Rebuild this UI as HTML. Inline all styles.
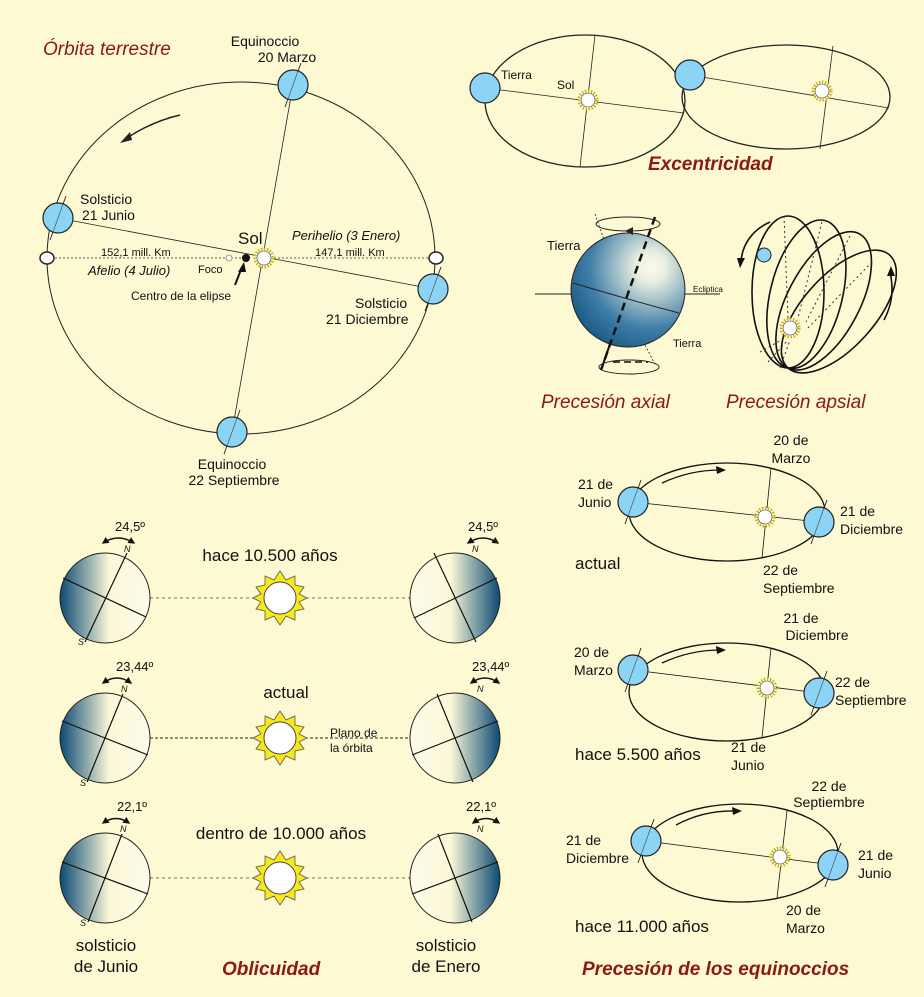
<!DOCTYPE html>
<html><head><meta charset="utf-8"><style>
html,body{margin:0;padding:0;background:#fdf9d2;}
svg{display:block;font-family:"Liberation Sans",sans-serif;}
.t{font-size:14px;fill:#111;}
.tt{font-size:17px;fill:#111;}
.r{font-size:19px;font-weight:bold;font-style:italic;fill:#8c1a10;}
.ri{font-size:19px;font-style:italic;fill:#8c1a10;}
</style></head><body>
<svg width="924" height="997" viewBox="0 0 924 997" xmlns="http://www.w3.org/2000/svg">
<defs>
<linearGradient id="gl" x1="0" x2="1"><stop offset="0" stop-color="#0b4a73"/><stop offset="0.55" stop-color="#fbf8d8"/><stop offset="1" stop-color="#fdfbe8"/></linearGradient>
<linearGradient id="gr" x1="1" x2="0"><stop offset="0" stop-color="#0b4a73"/><stop offset="0.55" stop-color="#fbf8d8"/><stop offset="1" stop-color="#fdfbe8"/></linearGradient>
<radialGradient id="gs" cx="0.7" cy="0.3" r="0.9"><stop offset="0" stop-color="#fdfbe8"/><stop offset="0.15" stop-color="#e8eee0"/><stop offset="0.6" stop-color="#3f7ea8"/><stop offset="1" stop-color="#0b4a73"/></radialGradient>
<marker id="ah" viewBox="0 0 10 10" refX="8" refY="5" markerWidth="5" markerHeight="5" orient="auto-start-reverse"><path d="M0 0 L10 5 L0 10 z" fill="#111"/></marker>
<g id="sun"><circle r="9" fill="#fff" stroke="#c9b400" stroke-width="3" stroke-dasharray="1.5 1.5"/><circle r="7" fill="#fff" stroke="#333" stroke-width="0.6"/></g>
<g id="bigsun"><polygon points="0,-27 6,-18 15,-22 15,-13 24,-11 19,-4 27,0 19,4 24,11 15,13 15,22 6,18 0,27 -6,18 -15,22 -15,13 -24,11 -19,4 -27,0 -19,-4 -24,-11 -15,-13 -15,-22 -6,-18" fill="#f8e81a" stroke="#555" stroke-width="0.8"/><circle r="16" fill="#fff" stroke="#444" stroke-width="1"/></g>
<g id="earth"><circle r="15" fill="#8bd4f6" stroke="#222" stroke-width="1.2"/></g>
<g id="earthA"><line x1="8" y1="-22" x2="-8" y2="22" stroke="#222" stroke-width="0.9"/><circle r="15" fill="#8bd4f6" stroke="#222" stroke-width="1.2"/><line x1="5" y1="-14" x2="-5" y2="14" stroke="#444" stroke-width="0.6"/></g>
</defs>
<rect width="924" height="997" fill="#fdf9d2"/>

<!-- Main orbit -->
<text x="43" y="55" class="ri">Órbita terrestre</text>
<ellipse cx="241" cy="258" rx="194" ry="176" fill="none" stroke="#222" stroke-width="1"/>
<path d="M180 115 Q150 122 124 140" fill="none" stroke="#222" stroke-width="1.5"/>
<polygon points="120,143 130,132 132,140" fill="#222"/>
<line x1="293" y1="85" x2="232" y2="432" stroke="#222" stroke-width="0.8"/>
<line x1="58" y1="218" x2="433" y2="289" stroke="#222" stroke-width="0.8"/>
<line x1="55" y1="258" x2="246" y2="258" stroke="#333" stroke-width="0.8" stroke-dasharray="2 2"/>
<line x1="274" y1="258" x2="428" y2="258" stroke="#333" stroke-width="0.8" stroke-dasharray="2 2"/>
<use href="#earthA" x="293" y="85"/><use href="#earthA" x="58" y="218"/><use href="#earthA" x="433" y="289"/><use href="#earthA" x="232" y="432"/>
<ellipse cx="47" cy="258" rx="7" ry="6" fill="#fff" stroke="#222" stroke-width="1.5"/>
<ellipse cx="436" cy="258" rx="7" ry="6" fill="#fff" stroke="#222" stroke-width="1.5"/>
<circle cx="229" cy="258" r="3" fill="#fff" stroke="#666" stroke-width="0.6"/>
<circle cx="246" cy="258" r="4" fill="#111"/>
<use href="#sun" x="264" y="258"/>
<line x1="235" y1="285" x2="242" y2="267" stroke="#111" stroke-width="2"/>
<polygon points="244,262 238,272 246,272" fill="#111"/>
<text x="265" y="46" class="t" text-anchor="middle">Equinoccio</text>
<text x="287" y="62" class="t" text-anchor="middle">20 Marzo</text>
<text x="80" y="204" class="t">Solsticio</text>
<text x="82" y="220" class="t">21 Junio</text>
<text x="238" y="244" class="tt">Sol</text>
<text x="101" y="256" font-size="11" fill="#111">152,1 mill. Km</text>
<text x="88" y="275" font-size="13" font-style="italic" fill="#111">Afelio (4 Julio)</text>
<text x="198" y="273" font-size="11" fill="#111">Foco</text>
<text x="131" y="300" font-size="12" fill="#111">Centro de la elipse</text>
<text x="292" y="240" font-size="13" font-style="italic" fill="#111">Perihelio (3 Enero)</text>
<text x="315" y="256" font-size="11" fill="#111">147,1 mill. Km</text>
<text x="355" y="308" class="t">Solsticio</text>
<text x="326" y="324" class="t">21 Diciembre</text>
<text x="232" y="469" class="t" text-anchor="middle">Equinoccio</text>
<text x="234" y="485" class="t" text-anchor="middle">22 Septiembre</text>

<!-- Excentricidad -->
<ellipse cx="585" cy="101" rx="100" ry="66" fill="none" stroke="#222" stroke-width="1.3"/>
<line x1="595" y1="35" x2="580" y2="167" stroke="#222" stroke-width="0.8"/>
<line x1="485" y1="88" x2="684" y2="113" stroke="#222" stroke-width="0.8"/>
<use href="#earth" x="485" y="88"/>
<use href="#sun" x="588" y="100"/>
<text x="501" y="79" font-size="12" fill="#111">Tierra</text>
<text x="557" y="89" font-size="12" fill="#111">Sol</text>
<ellipse cx="786" cy="97" rx="104" ry="52" fill="none" stroke="#222" stroke-width="1.3"/>
<line x1="833" y1="46" x2="820" y2="149" stroke="#222" stroke-width="0.8"/>
<line x1="690" y1="75" x2="889" y2="108" stroke="#222" stroke-width="0.8"/>
<use href="#earth" x="690" y="75"/>
<use href="#sun" x="822" y="91"/>
<text x="648" y="170" class="r">Excentricidad</text>

<!-- Precesión axial -->
<line x1="535" y1="294" x2="720" y2="294" stroke="#222" stroke-width="1"/>
<circle cx="628" cy="290" r="57" fill="url(#gs)" stroke="#222" stroke-width="1"/>
<path d="M573 283 Q630 300 679 313" fill="none" stroke="#222" stroke-width="1"/>
<line x1="655" y1="217" x2="601" y2="370" stroke="#111" stroke-width="2.5" stroke-dasharray="8 5"/>
<line x1="595" y1="214" x2="604" y2="240" stroke="#222" stroke-width="0.8" stroke-dasharray="2 2"/>
<ellipse cx="628" cy="224" rx="32" ry="7" fill="none" stroke="#222" stroke-width="1"/>
<polygon points="625,231 633,227 633,235" fill="#222"/>
<line x1="601" y1="370" x2="609" y2="347" stroke="#111" stroke-width="2"/>
<ellipse cx="629" cy="367" rx="30" ry="7" fill="none" stroke="#222" stroke-width="1"/>
<line x1="613" y1="362" x2="648" y2="362" stroke="#111" stroke-width="1.5" stroke-dasharray="7 4"/>
<line x1="645" y1="345" x2="656" y2="366" stroke="#222" stroke-width="0.8" stroke-dasharray="2 2"/>
<text x="547" y="250" font-size="13" fill="#111">Tierra</text>
<text x="693" y="292" font-size="8" fill="#111">Ecliptica</text>
<text x="673" y="347" font-size="11" fill="#111">Tierra</text>
<text x="541" y="408" class="ri">Precesión axial</text>

<!-- Precesión apsial -->
<g fill="none" stroke="#111" stroke-width="1.6">
<ellipse cx="788" cy="292" rx="36" ry="76" transform="rotate(0 788 368)"/>
<ellipse cx="788" cy="292" rx="36" ry="76" transform="rotate(14 788 368)"/>
<ellipse cx="788" cy="292" rx="36" ry="76" transform="rotate(28 788 368)"/>
<ellipse cx="788" cy="292" rx="36" ry="76" transform="rotate(42 788 368)"/>
<path d="M770 222 C752 230 742 245 741 262"/>
<path d="M884 320 C892 305 894 290 890 272"/>
</g>
<polygon points="737,258 745,258 740,268" fill="#111"/>
<polygon points="887,276 895,276 891,266" fill="#111"/>
<g stroke="#333" stroke-width="1" stroke-dasharray="2 3">
<line x1="784" y1="216" x2="788" y2="318"/><line x1="822" y1="222" x2="798" y2="318"/><line x1="850" y1="236" x2="806" y2="322"/><line x1="872" y1="262" x2="808" y2="328"/>
<line x1="760" y1="352" x2="785" y2="338"/><line x1="768" y1="362" x2="788" y2="340"/><line x1="780" y1="368" x2="790" y2="340"/>
</g>
<circle cx="764" cy="255" r="7" fill="#8bd4f6" stroke="#222"/>
<use href="#sun" x="790" y="328"/>
<text x="726" y="408" class="ri">Precesión apsial</text>

<!-- Oblicuidad -->
<line x1="60" y1="598" x2="500" y2="598" stroke="#444" stroke-width="0.8" stroke-dasharray="3 3"/>
<circle cx="105" cy="598" r="45" fill="url(#gl)" stroke="#222" stroke-width="1"/>
<circle cx="455" cy="598" r="45" fill="url(#gr)" stroke="#222" stroke-width="1"/>
<line x1="127" y1="553" x2="85" y2="642" stroke="#111" stroke-width="1.2"/>
<line x1="63" y1="578" x2="146" y2="617" stroke="#111" stroke-width="1.2"/>
<line x1="434" y1="553" x2="476" y2="642" stroke="#111" stroke-width="1.2"/>
<line x1="414" y1="618" x2="497" y2="578" stroke="#111" stroke-width="1.2"/>
<use href="#bigsun" x="280" y="598"/>
<text x="270" y="561" class="tt" text-anchor="middle">hace 10.500 años</text>

<line x1="60" y1="738" x2="500" y2="738" stroke="#222" stroke-width="1" stroke-dasharray="3 2"/>
<circle cx="105" cy="738" r="45" fill="url(#gl)" stroke="#222" stroke-width="1"/>
<circle cx="455" cy="738" r="45" fill="url(#gr)" stroke="#222" stroke-width="1"/>
<line x1="123" y1="694" x2="87" y2="782" stroke="#111" stroke-width="1.2"/>
<line x1="62" y1="721" x2="148" y2="755" stroke="#111" stroke-width="1.2"/>
<line x1="437" y1="694" x2="473" y2="782" stroke="#111" stroke-width="1.2"/>
<line x1="412" y1="755" x2="498" y2="721" stroke="#111" stroke-width="1.2"/>
<use href="#bigsun" x="280" y="738"/>
<text x="286" y="698" class="tt" text-anchor="middle">actual</text>
<text x="330" y="737" font-size="12" fill="#111">Plano de</text>
<text x="330" y="752" font-size="12" fill="#111">la órbita</text>

<line x1="60" y1="878" x2="500" y2="878" stroke="#444" stroke-width="0.8" stroke-dasharray="3 3"/>
<circle cx="105" cy="878" r="45" fill="url(#gl)" stroke="#222" stroke-width="1"/>
<circle cx="455" cy="878" r="45" fill="url(#gr)" stroke="#222" stroke-width="1"/>
<line x1="122" y1="834" x2="88" y2="922" stroke="#111" stroke-width="1.2"/>
<line x1="62" y1="862" x2="148" y2="894" stroke="#111" stroke-width="1.2"/>
<line x1="438" y1="834" x2="472" y2="922" stroke="#111" stroke-width="1.2"/>
<line x1="412" y1="894" x2="498" y2="862" stroke="#111" stroke-width="1.2"/>
<use href="#bigsun" x="280" y="878"/>
<text x="281" y="839" class="tt" text-anchor="middle">dentro de 10.000 años</text>

<g fill="none" stroke="#111" stroke-width="1.4" marker-start="url(#ah)" marker-end="url(#ah)">
<path d="M103 543 Q118 533 134 543"/><path d="M468 543 Q483 533 498 543"/>
<path d="M103 683 Q117 673 131 683"/><path d="M471 683 Q485 673 499 683"/>
<path d="M103 823 Q116 814 129 823"/><path d="M473 823 Q486 814 499 823"/>
</g>
<g font-size="13" fill="#111">
<text x="115" y="531">24,5º</text><text x="468" y="531">24,5º</text>
<text x="116" y="671">23,44º</text><text x="472" y="671">23,44º</text>
<text x="117" y="811">22,1º</text><text x="466" y="811">22,1º</text>
</g>
<g font-size="9" font-style="italic" fill="#111">
<text x="124" y="552">N</text><text x="78" y="645">S</text><text x="472" y="552">N</text>
<text x="121" y="692">N</text><text x="80" y="786">S</text><text x="477" y="692">N</text>
<text x="120" y="832">N</text><text x="80" y="926">S</text><text x="477" y="832">N</text>
</g>
<text x="106" y="951" class="tt" text-anchor="middle">solsticio</text>
<text x="106" y="972" class="tt" text-anchor="middle">de Junio</text>
<text x="446" y="951" class="tt" text-anchor="middle">solsticio</text>
<text x="446" y="972" class="tt" text-anchor="middle">de Enero</text>
<text x="222" y="975" class="r">Oblicuidad</text>

<!-- Precesión de los equinoccios -->
<g fill="none" stroke="#111" stroke-width="1.3">
<ellipse cx="727" cy="512" rx="98" ry="49"/>
<ellipse cx="727" cy="692" rx="98" ry="49"/>
<ellipse cx="740" cy="853" rx="98" ry="49"/>
<path d="M662 483 Q690 470 720 470"/><path d="M662 663 Q690 650 720 650"/><path d="M676 825 Q704 810 736 811"/>
</g>
<polygon points="726,470 716,466 717,474" fill="#111"/>
<polygon points="726,650 716,646 717,654" fill="#111"/>
<polygon points="742,811 732,807 733,815" fill="#111"/>
<g stroke="#111" stroke-width="0.8">
<line x1="771" y1="468" x2="762" y2="558"/><line x1="633" y1="502" x2="819" y2="522"/>
<line x1="771" y1="648" x2="762" y2="738"/><line x1="633" y1="670" x2="819" y2="693"/>
<line x1="787" y1="811" x2="777" y2="898"/><line x1="646" y1="841" x2="833" y2="865"/>
</g>
<use href="#earthA" x="633" y="502"/><use href="#earthA" x="819" y="522"/>
<use href="#earthA" x="633" y="670"/><use href="#earthA" x="819" y="693"/>
<use href="#earthA" x="646" y="841"/><use href="#earthA" x="833" y="865"/>
<use href="#sun" x="765" y="517"/><use href="#sun" x="767" y="688"/><use href="#sun" x="780" y="857"/>
<g class="t">
<text x="791" y="445" text-anchor="middle">20 de</text><text x="791" y="463" text-anchor="middle">Marzo</text>
<text x="578" y="489">21 de</text><text x="578" y="507">Junio</text>
<text x="840" y="516">21 de</text><text x="840" y="534">Diciembre</text>
<text x="763" y="575">22 de</text><text x="763" y="593">Septiembre</text>
<text x="801" y="623" text-anchor="middle">21 de</text><text x="817" y="640" text-anchor="middle">Diciembre</text>
<text x="574" y="657">20 de</text><text x="574" y="675">Marzo</text>
<text x="835" y="687">22 de</text><text x="835" y="705">Septiembre</text>
<text x="731" y="752">21 de</text><text x="731" y="770">Junio</text>
<text x="829" y="791" text-anchor="middle">22 de</text><text x="829" y="807" text-anchor="middle">Septiembre</text>
<text x="566" y="845">21 de</text><text x="566" y="863">Diciembre</text>
<text x="858" y="860">21 de</text><text x="858" y="878">Junio</text>
<text x="786" y="915">20 de</text><text x="786" y="933">Marzo</text>
</g>
<text x="575" y="569" class="tt">actual</text>
<text x="575" y="760" class="tt">hace 5.500 años</text>
<text x="575" y="932" class="tt">hace 11.000 años</text>
<text x="582" y="975" class="r">Precesión de los equinoccios</text>
</svg>
</body></html>
